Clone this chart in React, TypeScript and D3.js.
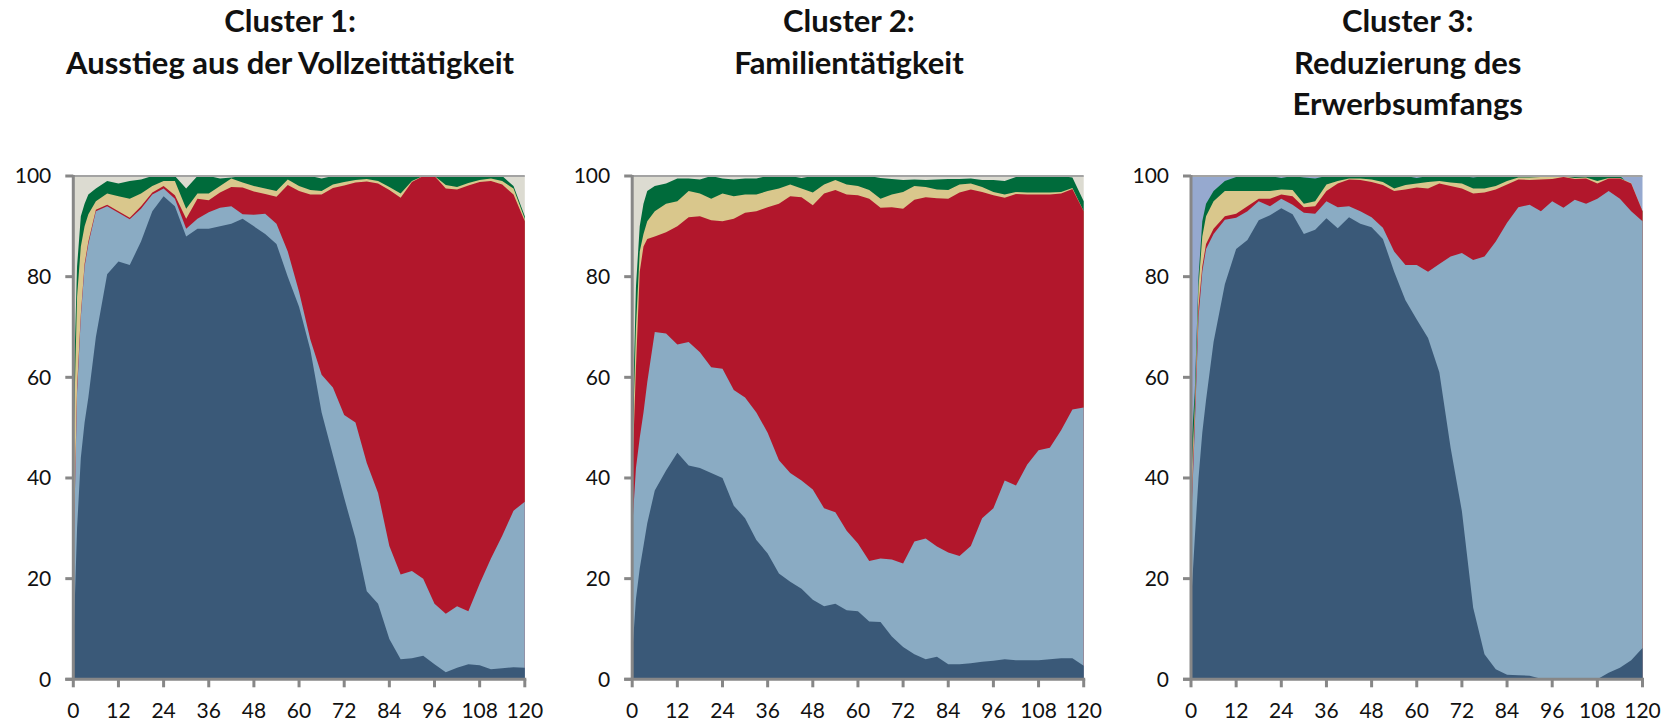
import React from 'react'
import * as d3 from 'd3'

// months since birth of the child (x categories)
const months = [0, 1, 2, 3, 4, 6, 9, 12, 15, 18, 21, 24, 27, 30, 33, 36, 39, 42, 45, 48, 51, 54, 57, 60, 63, 66, 69, 72, 75, 78, 81, 84, 87, 90, 93, 96, 99, 102, 105, 108, 111, 114, 117, 120]
const xTicks = [0, 12, 24, 36, 48, 60, 72, 84, 96, 108, 120]
const yTicks = [0, 20, 40, 60, 80, 100]

// upper edge of every layer (cumulative percent)
const c1Dark = [6, 30, 44, 51, 56, 68, 80.5, 83, 82.3, 87, 93, 96, 94, 88, 89.5, 89.5, 90, 90.5, 91.5, 90, 88.5, 86.5, 80, 74, 65.5, 53, 44.5, 36, 28, 17.5, 15, 8, 4, 4.2, 4.7, 3, 1.4, 2.3, 3, 2.8, 2, 2.2, 2.4, 2.3]
const c1Light = [22, 57, 72, 82, 86.5, 93, 94, 92.7, 91.4, 93.5, 96.3, 97.5, 95.5, 89.5, 91.5, 92.8, 93.7, 94, 92.4, 92.3, 92.5, 90.5, 85, 77, 67.5, 60.5, 58, 52.5, 51, 43, 37, 26.5, 20.8, 21.5, 20, 15, 13, 14.5, 13.5, 19, 24, 28.5, 33.5, 35.3]
const c1Red = [23, 58, 72.5, 82.5, 87, 93.3, 94.3, 93, 91.7, 94, 96.7, 98, 96.2, 91.5, 95.5, 95.2, 96.7, 97.8, 97.7, 96.9, 96.4, 95.9, 98.2, 97, 96.3, 96.3, 97.6, 98.1, 98.7, 98.9, 98.5, 97.2, 95.7, 98.8, 100, 100, 97.5, 97.3, 98.1, 98.8, 99, 98.3, 96.3, 91]
const c1Tan = [45, 76, 86, 90, 92.4, 95, 96.5, 96, 95.5, 96.5, 98, 99, 99, 93.5, 96.5, 96.5, 98, 99.5, 98.7, 98, 97.5, 97, 99.3, 98, 97.2, 97, 98.3, 98.8, 99.2, 99.4, 99, 97.8, 96.5, 99, 100, 100, 98.2, 97.8, 98.6, 99.2, 99.5, 99, 97.5, 91.5]
const c1Green = [55, 82, 92, 94.5, 96.3, 97.5, 99, 98.5, 99, 99.3, 100, 100, 100, 97.5, 100, 100, 99.5, 99.7, 100, 100, 100, 100, 100, 100, 100, 99.5, 100, 100, 100, 100, 100, 100, 100, 100, 100, 100, 100, 100, 100, 100, 100, 100, 98, 92]

const c2Dark = [5, 16, 22, 26.5, 31, 37.5, 41.5, 45, 42.5, 42, 41, 40, 34.5, 32, 27.7, 25, 21, 19.4, 18, 15.8, 14.5, 15, 13.7, 13.5, 11.5, 11.4, 8.5, 6.4, 5, 4, 4.5, 3, 3, 3.2, 3.5, 3.7, 4, 3.8, 3.8, 3.8, 4, 4.2, 4.2, 2.7]
const c2Light = [30, 42, 48, 53, 59, 69, 68.7, 66.5, 67, 65, 62, 61.7, 57.5, 56, 53, 49, 43.5, 41, 39.5, 37.7, 34, 33.2, 29.5, 27, 23.5, 24, 23.8, 23, 27.4, 28, 26.4, 25.2, 24.5, 26.5, 32, 34, 39.5, 38.5, 42.7, 45.5, 46, 49.5, 53.6, 54]
const c2Red = [40, 62, 81, 86, 87.5, 88, 88.8, 90, 91.8, 92, 91.2, 91, 91.5, 92.7, 93, 93.8, 94.5, 96, 95.8, 94.2, 96.5, 97.2, 96.3, 96.2, 95.5, 93.7, 93.8, 93.5, 95.3, 95.8, 95.6, 95.5, 96.7, 97.3, 96.8, 96.2, 95.7, 96.4, 96.3, 96.3, 96.3, 96.5, 97.4, 93]
const c2Tan = [44, 70, 85, 88.5, 91, 93, 94.5, 95, 97, 96.5, 95.5, 96.5, 96, 96.3, 96.3, 97, 97.5, 98.3, 97.5, 96.7, 98.3, 99.2, 98.3, 98, 97.2, 95.5, 96.3, 96.8, 98, 97.8, 97.3, 97.2, 98.3, 98.5, 97.8, 96.8, 96.3, 96.8, 96.7, 96.7, 96.7, 96.8, 97.6, 93]
const c2Green = [48, 78, 90, 94.5, 97, 98, 98.5, 99.5, 99.5, 99.3, 100, 99.5, 99.3, 99.5, 99.5, 100, 99.8, 100, 99.6, 100, 100, 100, 100, 100, 100, 99.6, 99.4, 99.2, 99.3, 99.2, 99.3, 99.4, 99.4, 99.5, 99.2, 99.2, 99, 99.8, 100, 100, 100, 100, 99.7, 95]

const c3Dark = [15, 28, 40, 49, 55.5, 67, 78.5, 85.5, 87.3, 91.2, 92.2, 93.6, 92.4, 88.5, 89.3, 91.6, 89.6, 91.8, 90.5, 89.8, 87.5, 81, 75.3, 71.5, 67.8, 61, 46, 33.4, 14.2, 5, 2, 0.9, 0.8, 0.7, 0.1, 0, 0, 0, 0, 0, 1.3, 2.3, 3.8, 6.2]
const c3Light = [30, 50, 72, 81, 85.5, 88.5, 91.3, 91.7, 93, 95, 94, 95.5, 94.3, 92.7, 92.5, 95, 93.8, 94, 93, 91.8, 89.7, 85, 82.3, 82.3, 81, 82.5, 84, 84.7, 83.3, 84, 87, 90.7, 93.8, 94.3, 93, 95, 93.7, 95.3, 94.5, 95.5, 97, 95.5, 93, 91]
const c3Red = [32, 52, 74, 82, 86.5, 89.5, 92, 92.5, 94, 95.5, 95.5, 96.3, 96, 93.8, 94, 97, 98.5, 99.3, 99.2, 98.8, 98.2, 97, 97.3, 97.7, 97.5, 98.5, 98, 97.5, 96.5, 96.7, 97.3, 98.3, 99.3, 99.2, 99.3, 99.4, 99.8, 99.4, 99.5, 98.5, 99.5, 99.5, 98.5, 93]
const c3Tan = [38, 54, 78, 88, 92, 95, 97, 97, 97, 97, 97, 97.3, 97.2, 94.5, 95, 98.3, 99, 99.5, 99.5, 99.3, 98.8, 97.5, 98.2, 98.5, 98.8, 99, 98.7, 98.5, 97.5, 97.5, 98, 99, 99.7, 99.7, 99.8, 99.8, 99.9, 99.6, 99.7, 99, 99.6, 99.6, 98.6, 93]
const c3Green = [45, 57, 80, 91, 94.5, 97, 99, 99.8, 100, 99.8, 100, 99.6, 100, 99.7, 99.5, 100, 99.8, 99.8, 100, 100, 99.8, 100, 100, 99.6, 100, 100, 100, 100, 99.7, 100, 100, 100, 100, 100, 100, 100, 100, 100, 100, 100, 100, 100, 98, 93]

const layerColors = ['#3a5978', '#8aabc3', '#b2172c', '#d9c78c', '#006b3b']

const panels = [
  { title: ['Cluster 1:', 'Ausstieg aus der Vollzeittätigkeit'], left: 73.3, bg: '#dcdbd1', edges: [c1Dark, c1Light, c1Red, c1Tan, c1Green] },
  { title: ['Cluster 2:', 'Familientätigkeit'], left: 632.2, bg: '#dcdbd1', edges: [c2Dark, c2Light, c2Red, c2Tan, c2Green] },
  { title: ['Cluster 3:', 'Reduzierung des', 'Erwerbsumfangs'], left: 1191, bg: '#96a9cf', edges: [c3Dark, c3Light, c3Red, c3Tan, c3Green] },
]

const W = 1674
const H = 723
const PW = 451.5
const Y_BOTTOM = 679.3
const Y_TOP = 176
const AXIS = '#878787'

function Panel({ panel }: { panel: typeof panels[number] }) {
  const x = d3.scaleLinear().domain([0, 120]).range([panel.left, panel.left + PW])
  const y = d3.scaleLinear().domain([0, 100]).range([Y_BOTTOM, Y_TOP])
  // each layer is filled from 0 up to its upper edge, top layer first, so no seams show
  const area = d3.area<number>()
    .x((_, i) => x(months[i]))
    .y0(y(0))
    .y1(d => y(d))
  const cx = (x(0) + x(120)) / 2 - 9

  return (
    <g>
      {panel.title.map((t, i) => (
        <text key={t} x={cx} y={32 + i * 41.5} textAnchor="middle"
          fontFamily="Lato, 'Open Sans', sans-serif" fontWeight={700} fontSize={31} fill="#111">
          {t}
        </text>
      ))}
      <rect x={x(0)} y={y(100)} width={x(120) - x(0)} height={y(0) - y(100)} fill={panel.bg} />
      {panel.edges.map((edge, i) => ({ edge, i })).reverse().map(({ edge, i }) => (
        <path key={i} d={area(edge) || ''} fill={layerColors[i]} />
      ))}
      <line x1={x(0)} x2={x(120)} y1={y(100)} y2={y(100)} stroke="#a3a3a3" strokeWidth={2} />
      {yTicks.map(t => (
        <g key={t}>
          <line x1={x(0) - 8} x2={x(0)} y1={y(t)} y2={y(t)} stroke={AXIS} strokeWidth={3} />
          <text x={x(0) - 22} y={y(t)} dy="0.35em" textAnchor="end"
            fontFamily="Lato, 'Open Sans', sans-serif" fontSize={21} fill="#111">{t}</text>
        </g>
      ))}
      <line x1={x(0)} x2={x(0)} y1={y(100) - 1} y2={y(0)} stroke={AXIS} strokeWidth={3} />
      <line x1={x(0) - 8} x2={x(120) + 1.5} y1={y(0)} y2={y(0)} stroke={AXIS} strokeWidth={3} />
      {xTicks.map(t => (
        <g key={t}>
          <line x1={x(t)} x2={x(t)} y1={y(0)} y2={y(0) + 8} stroke={AXIS} strokeWidth={3} />
          <text x={x(t)} y={717.5} textAnchor="middle"
            fontFamily="Lato, 'Open Sans', sans-serif" fontSize={21} fill="#111">{t}</text>
        </g>
      ))}
    </g>
  )
}

export default function App() {
  return (
    <svg width={W} height={H} style={{ position: 'absolute', left: 0, top: 0, background: '#fff' }}>
      {panels.map(p => <Panel key={p.left} panel={p} />)}
    </svg>
  )
}
